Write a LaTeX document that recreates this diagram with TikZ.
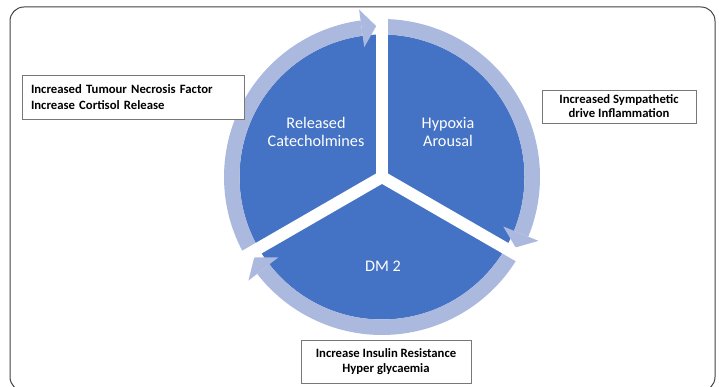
\documentclass[tikz,border=0pt]{standalone}
\usepackage{fontspec}
\setmainfont{Carlito}
\definecolor{pieblue}{RGB}{68,114,196}
\definecolor{ringblue}{RGB}{172,185,222}
\definecolor{boxgray}{RGB}{120,120,120}
\begin{document}
\begin{tikzpicture}[x=1pt,y=1pt,
  notebox/.style={draw=boxgray,line width=0.9pt,fill=white,inner sep=0pt},
  pielabel/.style={text=white,align=center,font=\fontsize{16.2}{18.5}\selectfont},
  ringarc/.style={fill=ringblue,draw=none},
  spoke/.style={draw=white,line width=12pt}]
\useasboundingbox (0,0) rectangle (719,387);
\clip (0,0) rectangle (719,387);
% outer frame
\draw[draw=black!75,line width=1pt,rounded corners=14pt] (10,-4) rectangle (715,380);
\coordinate (C) at (382,210);
% pie
\fill[pieblue] (C) circle[radius=142.5pt];
% ring arcs with heads
\foreach \s in {210,90,-30}{
  \pgfmathsetmacro{\e}{\s-112.2}
  \pgfmathsetmacro{\t}{\e-5.6}
  \fill[ringarc] ([shift={(C)}]\s:158pt) arc[start angle=\s,end angle=\e,radius=158pt]
     -- ([shift={(C)}]\e:142.5pt) arc[start angle=\e,end angle=\s,radius=142.5pt] -- cycle;
  \fill[ringarc] ([shift={(C)}]\e:131pt) -- ([shift={(C)}]\e:169pt) -- ([shift={(C)}]\t:151pt) -- cycle;
}
% white gaps
\draw[spoke] (C) -- ([shift={(C)}]90:165pt);
\draw[spoke] (C) -- ([shift={(C)}]-30:165pt);
\draw[spoke] (C) -- ([shift={(C)}]210:165pt);
% labels in pie
\node[pielabel] (rc) at (316,255) {Released\\Catecholmines};
\node[pielabel] (ha) at (448,255) {Hypoxia\\Arousal};
\node[pielabel] (dm) at (383,121) {DM 2};
% note boxes
\node[notebox,minimum width=222pt,minimum height=44pt,text width=204pt,align=left,font=\bfseries\fontsize{12.7}{16}\selectfont] (tnf) at (133,290)
  {Increased Tumour Necrosis Factor\\Increase Cortisol Release};
\node[notebox,minimum width=154pt,minimum height=33pt,align=center,font=\bfseries\fontsize{12.7}{14}\selectfont] (sym) at (619,280.5)
  {Increased Sympathetic\\drive Inflammation};
\node[notebox,minimum width=170pt,minimum height=43pt,align=center,font=\bfseries\fontsize{12.7}{15}\selectfont] (ins) at (386,25.5)
  {Increase Insulin Resistance\\Hyper glycaemia};
\end{tikzpicture}
\end{document}
